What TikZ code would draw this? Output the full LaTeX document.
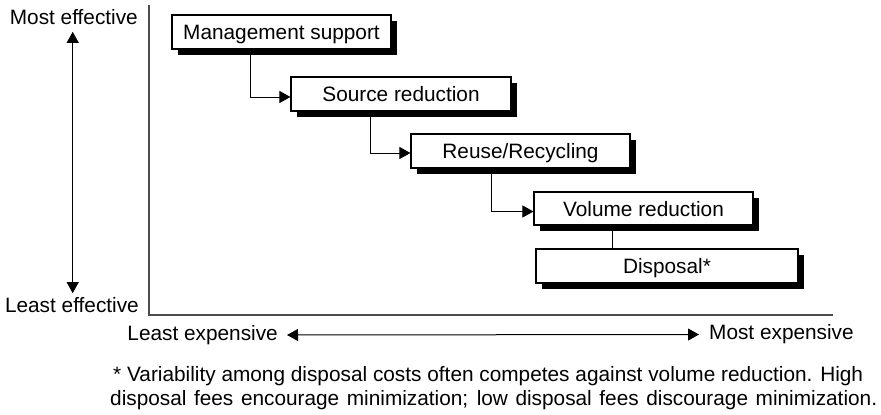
\documentclass[tikz,border=0pt]{standalone}
\usepackage{fontspec}
\setmainfont{Liberation Sans}
\usetikzlibrary{arrows.meta}
\begin{document}
\begin{tikzpicture}[x=1pt,y=-1pt,
  font=\fontsize{20.8}{23.5}\selectfont,
  stepbox/.style={draw=black, line width=1.1pt, fill=white, inner sep=0pt,
    minimum height=34pt, text depth=0pt},
  shadowbox/.style={fill=black},
  link/.style={line width=1pt, -{Triangle[length=11pt,width=12pt]}},
  plain/.style={line width=1pt},
  axisline/.style={line width=1.6pt, draw=black!70},
  twoway/.style={line width=1pt, {Triangle[length=11pt,width=12pt]}-{Triangle[length=11pt,width=12pt]}},
  lbl/.style={inner sep=0pt}]
\useasboundingbox (0,0) rectangle (881,415);

% axes
\draw[axisline] (149,5) -- (149,315) -- (833,315);

% drop shadows behind the boxes
\fill[shadowbox] (177.5,20.5) rectangle (396.5,54.5);
\fill[shadowbox] (296.5,82.5) rectangle (516.5,116.5);
\fill[shadowbox] (416.5,139.5) rectangle (635.5,173.5);
\fill[shadowbox] (539.5,197.5) rectangle (758.5,231);
\fill[shadowbox] (541.5,254.5) rectangle (803.5,288.5);

% hierarchy boxes
\node[stepbox, minimum width=219pt] (ms) at (281.5,32) {Management support};
\node[stepbox, minimum width=220pt] (sr) at (401,94) {Source reduction};
\node[stepbox, minimum width=219pt] (rr) at (520.5,151) {Reuse/Recycling};
\node[stepbox, minimum width=219pt, minimum height=33pt] (vr) at (643.5,208.5) {Volume reduction};
\node[stepbox, minimum width=262pt] (dp) at (667,266) {Disposal*};

% connectors
\draw[link] (ms.south -| 250,0) |- ([yshift=-3pt]sr.west);
\draw[link] (sr.south -| 370,0) |- ([yshift=-2pt]rr.west);
\draw[link] (rr.south -| 491.5,0) |- ([yshift=-3pt]vr.west);
\draw[plain] (vr.south -| 612.5,0) -- (dp.north -| 612.5,0);

% effectiveness scale
\node[lbl, anchor=east] (meff) at (138,17) {Most effective};
\node[lbl, anchor=east] (leff) at (139,305) {Least effective};
\draw[twoway] ([yshift=-7pt]meff.south -| 72.7,0) -- ([yshift=4pt]leff.north -| 72.7,0);

% cost scale
\node[lbl, anchor=east] (lexp) at (278,335) {Least expensive};
\node[lbl, anchor=west] (mexp) at (709,334.5) {Most expensive};
\draw[twoway] ([xshift=9pt]lexp.east) -- ([xshift=-10pt]mexp.west);

% footnote
\node[lbl, align=left, anchor=west] (note) at (110,388) {\hspace*{3pt}\makebox[750pt][s]{* Variability among disposal costs often competes against volume reduction. High}\\\makebox[767pt][s]{disposal fees encourage minimization; low disposal fees discourage minimization.}};
\end{tikzpicture}
\end{document}
